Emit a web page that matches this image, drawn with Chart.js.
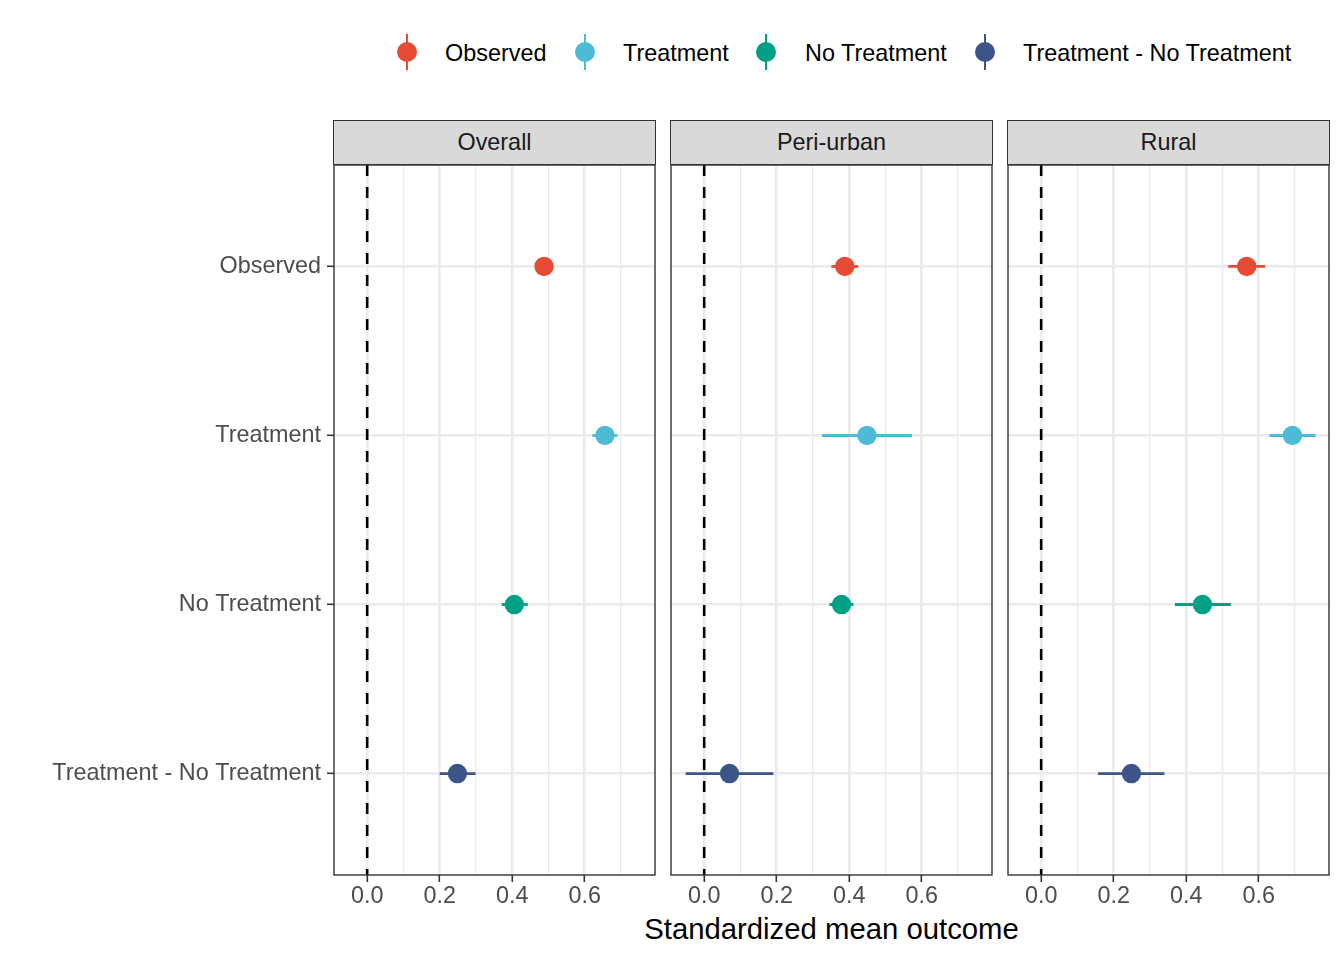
<!DOCTYPE html>
<html>
<head>
<meta charset="utf-8">
<script src="https://cdn.jsdelivr.net/npm/chart.js@4.4.1/dist/chart.umd.min.js"></script>
<style>
  html, body { margin: 0; padding: 0; background: #ffffff; }
  #wrap { position: relative; width: 1344px; height: 960px; background: #ffffff; font-family: "Liberation Sans", Arial, sans-serif; }
  #wrap canvas { position: absolute; left: 0; top: 0; }
  .strip { position: absolute; top: 120px; height: 45px; box-sizing: border-box; background: #d9d9d9; border: 1.4px solid #333333;
           color: #1a1a1a; font-size: 23.4px; display: flex; align-items: center; justify-content: center; }
  .legend { position: absolute; top: 34px; height: 36px; left: 0; width: 1344px; }
  .lkey { position: absolute; top: 0; width: 20px; height: 36px; }
  .lkey .bar { position: absolute; left: 8.6px; top: 0; width: 2.8px; height: 36px; }
  .lkey .dot { position: absolute; left: 0; top: 8px; width: 20px; height: 20px; border-radius: 50%; }
  .ltext { position: absolute; top: 5px; font-size: 23.4px; color: #000; white-space: nowrap; line-height: 28px; }
  #xtitle { position: absolute; top: 911px; left: 334px; width: 995px; text-align: center; font-size: 29.3px; color: #000; line-height: 36px; }
</style>
</head>
<body>
<div id="wrap">
  <div class="legend" id="legend"></div>
  <div id="xtitle">Standardized mean outcome</div>
</div>
<script>
// ---- data ----
const categories = ['Observed', 'Treatment', 'No Treatment', 'Treatment - No Treatment'];
const panelNames = ['Overall', 'Peri-urban', 'Rural'];
const seriesColors = ['#E64B35', '#4DBBD5', '#00A087', '#3C5488'];

const overallEst  = [0.488, 0.656, 0.406, 0.249];
const overallLow  = [0.479, 0.621, 0.371, 0.200];
const overallHigh = [0.497, 0.690, 0.443, 0.299];

const periEst  = [0.388, 0.449, 0.379, 0.070];
const periLow  = [0.351, 0.325, 0.345, -0.051];
const periHigh = [0.425, 0.573, 0.412, 0.191];

const ruralEst  = [0.567, 0.693, 0.445, 0.249];
const ruralLow  = [0.516, 0.630, 0.369, 0.157];
const ruralHigh = [0.618, 0.757, 0.523, 0.340];

const xTickValues = [0, 0.1, 0.2, 0.3, 0.4, 0.5, 0.6, 0.7];
const xMin = -0.0915, xMax = 0.794;
const refLine = 0;

// ---- layout ----
const panels = [
  { est: overallEst, low: overallLow, high: overallHigh, left: 334, right: 655, showY: true },
  { est: periEst, low: periLow, high: periHigh, left: 671, right: 992, showY: false },
  { est: ruralEst, low: ruralLow, high: ruralHigh, left: 1008, right: 1329, showY: false }
];
const plotTop = 165, plotBottom = 875, W = 1344, H = 960;
const FONT = '"Liberation Sans", Arial, sans-serif';

const wrap = document.getElementById('wrap');

// legend (HTML)
const legend = document.getElementById('legend');
const legendPos = [[397, 445], [575, 623], [756, 805], [975, 1023]];
categories.forEach((c, i) => {
  const key = document.createElement('div');
  key.className = 'lkey';
  key.style.left = legendPos[i][0] + 'px';
  key.innerHTML = '<div class="bar" style="background:' + seriesColors[i] + '"></div><div class="dot" style="background:' + seriesColors[i] + '"></div>';
  legend.appendChild(key);
  const t = document.createElement('div');
  t.className = 'ltext';
  t.style.left = legendPos[i][1] + 'px';
  t.textContent = c;
  legend.appendChild(t);
});

const borderPlugin = {
  id: 'panelBorder',
  afterDraw(chart) {
    const a = chart.chartArea, ctx = chart.ctx;
    ctx.save();
    ctx.strokeStyle = '#333333';
    ctx.lineWidth = 1.4;
    ctx.strokeRect(a.left, a.top, a.right - a.left, a.bottom - a.top);
    ctx.restore();
  }
};

panels.forEach((p, pi) => {
  // strip
  const s = document.createElement('div');
  s.className = 'strip';
  s.style.left = (p.left - 0.7) + 'px';
  s.style.width = (p.right - p.left + 1.4) + 'px';
  s.textContent = panelNames[pi];
  wrap.appendChild(s);

  const cv = document.createElement('canvas');
  cv.width = W; cv.height = H;
  cv.style.width = W + 'px'; cv.style.height = H + 'px';
  wrap.appendChild(cv);

  const datasets = [];
  // reference dashed line
  datasets.push({
    type: 'line', data: [{ x: refLine, y: 0.4 }, { x: refLine, y: 4.6 }],
    borderColor: '#000000', borderWidth: 2.6, borderDash: [11, 11], pointRadius: 0, order: 0
  });
  // error bars
  categories.forEach((c, i) => {
    datasets.push({
      type: 'line', data: [{ x: p.low[i], y: i + 1 }, { x: p.high[i], y: i + 1 }],
      borderColor: seriesColors[i], borderWidth: 2.8, pointRadius: 0, order: 2
    });
  });
  // points
  datasets.push({
    type: 'scatter',
    data: categories.map((c, i) => ({ x: p.est[i], y: i + 1 })),
    backgroundColor: seriesColors, borderWidth: 0, pointRadius: 9.7, pointHoverRadius: 9.7, order: 1
  });

  new Chart(cv, {
    type: 'scatter',
    data: { datasets },
    options: {
      responsive: false, animation: false, devicePixelRatio: 1,
      layout: { padding: { left: p.showY ? 0 : p.left, right: W - p.right, top: plotTop, bottom: H - plotBottom - 50 } },
      plugins: { legend: { display: false }, tooltip: { enabled: false } },
      scales: {
        x: {
          type: 'linear', min: xMin, max: xMax,
          afterBuildTicks: (sc) => { sc.ticks = xTickValues.map(v => ({ value: v })); },
          afterFit: (sc) => { sc.height = 50; },
          border: { display: false },
          grid: {
            color: '#ebebeb',
            lineWidth: (ctx) => (ctx.index % 2 === 0 ? 2.6 : 1.3),
            drawTicks: true, tickLength: 7,
            tickColor: (ctx) => (ctx.index % 2 === 0 ? '#333333' : 'rgba(0,0,0,0)'),
            tickWidth: 1.6
          },
          ticks: {
            autoSkip: false, maxRotation: 0, padding: 1,
            color: '#4d4d4d', font: { family: FONT, size: 23.4 },
            callback: (v, i) => (i % 2 === 0 ? Number(xTickValues[i]).toFixed(1) : '')
          }
        },
        y: {
          type: 'linear', reverse: true, min: 0.4, max: 4.6,
          afterBuildTicks: (sc) => { sc.ticks = categories.map((c, i) => ({ value: i + 1 })); },
          afterFit: (sc) => { sc.width = p.showY ? p.left : 0; },
          border: { display: false },
          grid: {
            color: '#ebebeb', lineWidth: 2.6,
            drawTicks: p.showY, tickLength: 7, tickColor: '#333333', tickWidth: 1.6
          },
          ticks: {
            display: p.showY, padding: 6, color: '#4d4d4d', font: { family: FONT, size: 23.4 },
            callback: (v, i) => categories[i]
          }
        }
      }
    },
    plugins: [borderPlugin]
  });
});
</script>
</body>
</html>
